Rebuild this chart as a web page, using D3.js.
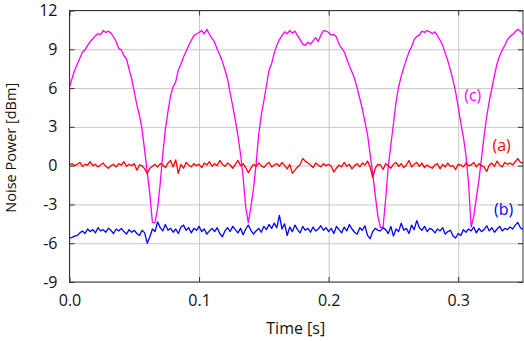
<!DOCTYPE html>
<head>
  <meta charset="utf-8">
  <script src="https://d3js.org/d3.v7.min.js"></script>
  <style>
    body { margin: 0; background: #fff; }
    text { font-family: "Open Sans", sans-serif; fill: #111; }
    .grid line { stroke: #c8c8c8; stroke-width: 1; }
    .grid path { display: none; }
    .axis path { display: none; }
    .axis line { stroke: #333; }
    .frame { fill: none; stroke: #333; stroke-width: 1; }
  </style>
</head>
<body>
<script>
  // sample spacing of the traces, in seconds
  var tStep = 0.002;

  var xTicks = [0, 0.1, 0.2, 0.3];
  var yTicks = [-9, -6, -3, 0, 3, 6, 9, 12];

  // (c) magenta
  var traceC = [
    6.10, 6.75, 7.40, 7.85, 8.30, 8.80, 8.95, 9.30, 9.60, 9.80,
    10.05, 10.20, 10.15, 10.45, 10.30, 10.40, 10.25, 9.95, 9.60, 9.05,
    8.95, 8.50, 8.25, 7.45, 6.70, 5.70, 4.70, 3.90, 2.80, 1.20,
    -0.50, -2.20, -4.40, -4.40, -3.30, -1.40, 0.90, 2.80, 4.20, 5.40,
    6.10, 6.50, 7.40, 7.85, 8.40, 8.85, 9.30, 9.70, 10.05, 10.20,
    10.30, 10.45, 10.20, 10.55, 10.15, 9.85, 9.55, 9.00, 8.55, 8.05,
    7.40, 6.70, 5.60, 4.60, 3.50, 2.30, 0.90, -0.90, -3.20, -4.40,
    -3.20, -1.80, 0.10, 2.40, 3.90, 5.00, 6.20, 7.40, 7.90, 8.70,
    9.30, 9.75, 10.05, 10.35, 10.20, 10.45, 10.25, 10.40, 10.05, 9.75,
    9.40, 9.30, 9.55, 9.40, 9.65, 9.90, 9.60, 10.10, 10.45, 10.40,
    10.30, 10.10, 10.15, 9.95, 9.40, 9.10, 8.80, 8.25, 7.70, 7.25,
    6.75, 6.00, 5.20, 4.40, 3.40, 2.40, 0.90, -0.60, -2.30, -3.90,
    -4.80, -4.75, -2.60, -0.10, 1.60, 3.20, 4.90, 6.10, 6.90, 7.60,
    8.20, 8.80, 9.20, 9.75, 10.00, 10.10, 10.40, 10.30, 10.45, 10.35,
    10.20, 10.35, 10.05, 9.70, 9.30, 8.70, 8.10, 7.40, 6.60, 5.70,
    4.50, 3.30, 2.20, 0.80, -1.40, -4.75, -3.90, -2.50, -1.10, 0.60,
    2.30, 3.80, 5.00, 6.00, 7.00, 7.90, 8.50, 8.95, 9.30, 9.75,
    10.00, 10.15, 10.35, 10.55, 10.40, 10.15
  ];

  // (a) red
  var traceA = [
    0.05, 0.15, 0.00, 0.10, 0.25, -0.05, 0.10, 0.05, 0.30, 0.00,
    0.10, -0.10, 0.05, 0.20, -0.05, -0.20, 0.00, 0.10, -0.10, 0.15,
    0.05, 0.30, -0.05, 0.10, 0.00, 0.15, -0.35, 0.05, 0.00, -0.25,
    -0.60, -0.20, -0.05, 0.10, -0.10, 0.15, 0.05, -0.15, 0.20, 0.40,
    -0.10, 0.45, -0.60, 0.10, -0.20, 0.25, 0.05, -0.10, 0.15, 0.00,
    0.10, -0.15, 0.20, 0.05, 0.30, -0.05, 0.15, 0.00, 0.40, 0.10,
    -0.05, 0.20, 0.05, -0.20, 0.10, 0.40, 0.00, 0.15, -0.15, -0.55,
    -0.20, 0.10, -0.05, 0.20, 0.00, -0.15, 0.10, 0.25, -0.10, 0.05,
    0.15, -0.05, 0.25, 0.00, -0.25, 0.10, -0.60, -0.35, -0.10, 0.10,
    0.55, 0.35, 0.20, 0.05, -0.15, 0.20, 0.05, -0.10, 0.15, 0.00,
    0.10, -0.05, -0.50, -0.20, 0.05, -0.10, 0.25, -0.05, 0.10, -0.25,
    0.00, 0.15, -0.10, 0.20, 0.05, 0.35, -0.10, -0.90, -0.20, 0.10,
    0.05, -0.30, 0.15, 0.00, -0.20, 0.10, 0.25, -0.05, 0.15, -0.15,
    0.05, 0.40, -0.10, 0.10, 0.25, -0.05, 0.20, -0.15, 0.05, -0.10,
    -0.20, 0.05, 0.15, -0.25, 0.10, -0.10, 0.20, -0.05, 0.00, -0.30,
    0.10, 0.05, -0.10, 0.20, 0.00, 0.05, 0.25, -0.10, 0.15, 0.00,
    -0.10, -0.45, 0.05, 0.20, -0.05, 0.35, 0.05, -0.10, 0.25, 0.10,
    0.20, 0.05, 0.30, 0.55, 0.25, 0.20
  ];

  // (b) blue
  var traceB = [
    -5.60, -5.55, -5.45, -5.40, -5.20, -5.05, -5.25, -4.90, -5.10, -4.95,
    -5.20, -4.80, -5.05, -4.95, -5.15, -4.85, -5.00, -5.25, -4.90, -5.05,
    -4.85, -5.10, -5.30, -4.95, -5.15, -5.00, -5.25, -5.40, -5.00, -5.20,
    -6.00, -5.50, -4.90, -5.10, -4.35, -4.80, -5.05, -4.55, -5.00, -4.85,
    -5.15, -4.90, -5.25, -4.75, -4.60, -5.00, -4.80, -5.20, -4.85, -5.00,
    -4.70, -5.10, -4.90, -5.30, -5.05, -4.85, -5.10, -4.80, -5.25, -5.50,
    -5.05, -4.80, -5.10, -4.70, -4.95, -5.20, -4.85, -5.35, -4.90, -4.60,
    -5.00, -5.30, -5.05, -4.85, -5.15, -4.70, -4.95, -4.55, -4.85, -4.45,
    -4.80, -3.85, -4.90, -4.50, -5.40, -4.75, -5.10, -4.60, -4.95, -5.20,
    -4.70, -5.00, -4.85, -5.15, -4.75, -5.05, -4.90, -4.65, -5.00, -4.80,
    -5.10, -4.85, -5.25, -4.70, -4.95, -5.20, -4.75, -5.05, -4.55, -4.90,
    -5.15, -5.30, -4.80, -5.00, -4.65, -5.40, -5.65, -5.10, -4.85, -5.00,
    -5.05, -4.80, -4.95, -5.25, -4.70, -5.45, -4.90, -5.10, -4.45, -5.00,
    -4.85, -5.25, -4.60, -4.95, -4.25, -4.80, -5.00, -4.70, -5.10, -4.85,
    -4.95, -5.20, -4.90, -5.05, -4.80, -5.30, -5.10, -5.00, -5.45, -5.60,
    -5.25, -5.40, -4.95, -5.15, -4.90, -5.05, -4.75, -5.20, -4.85, -5.10,
    -4.95, -4.65, -5.05, -4.80, -5.15, -4.90, -4.70, -5.05, -4.85, -4.95,
    -4.75, -4.90, -4.60, -4.40, -4.80, -4.95
  ];

  var margin = {top: 10.5, right: 1, bottom: 59, left: 69.5};
  var width = 524 - margin.left - margin.right;
  var height = 341 - margin.top - margin.bottom;

  var svg = d3.select("body").append("svg")
      .attr("width", 524)
      .attr("height", 341)
    .append("g")
      .attr("transform", "translate(" + margin.left + "," + margin.top + ")");

  var x = d3.scaleLinear().domain([0, 0.35]).range([0, width]);
  var y = d3.scaleLinear().domain([-9, 12]).range([height, 0]);

  // grid
  svg.append("g")
      .attr("class", "grid")
      .call(d3.axisBottom(x).tickValues(xTicks).tickSize(height).tickFormat(""));
  svg.append("g")
      .attr("class", "grid")
      .call(d3.axisLeft(y).tickValues(yTicks).tickSize(-width).tickFormat(""));

  // traces
  var line = d3.line()
      .x(function(d, i) { return x(i * tStep); })
      .y(function(d) { return y(d); });

  var series = [
    {values: traceC, color: "#ff00ff"},
    {values: traceA, color: "#ff0000"},
    {values: traceB, color: "#0000ff"}
  ];

  svg.selectAll(".trace")
      .data(series)
    .enter().append("path")
      .attr("class", "trace")
      .attr("fill", "none")
      .attr("stroke", function(d) { return d.color; })
      .attr("stroke-width", 1.3)
      .attr("stroke-linejoin", "round")
      .attr("d", function(d) { return line(d.values); });

  // frame + inward ticks on all sides
  svg.append("rect")
      .attr("class", "frame")
      .attr("width", width)
      .attr("height", height);

  var xb = svg.append("g")
      .attr("class", "axis")
      .attr("transform", "translate(0," + height + ")")
      .call(d3.axisBottom(x).tickValues(xTicks).tickSize(-5).tickPadding(13)
        .tickFormat(d3.format(".1f")));
  xb.selectAll("text").style("font-size", "16px");

  svg.append("g")
      .attr("class", "axis")
      .call(d3.axisTop(x).tickValues(xTicks).tickSize(-5).tickFormat(""));

  // plain hyphen for negatives, as in the original figure
  var yl = svg.append("g")
      .attr("class", "axis")
      .call(d3.axisLeft(y).tickValues(yTicks).tickSize(-5).tickPadding(12)
        .tickFormat(function(d) { return String(d); }));
  yl.selectAll("text").style("font-size", "16px");

  svg.append("g")
      .attr("class", "axis")
      .attr("transform", "translate(" + width + ",0)")
      .call(d3.axisRight(y).tickValues(yTicks).tickSize(-5).tickFormat(""));

  // axis titles
  svg.append("text")
      .attr("x", width / 2 - 0.5)
      .attr("y", height + 52)
      .attr("text-anchor", "middle")
      .style("font-size", "16px")
      .text("Time [s]");

  svg.append("text")
      .attr("transform", "translate(" + (-54) + "," + (height / 2 + 1.5) + ") rotate(-90)")
      .attr("text-anchor", "middle")
      .style("font-size", "14.5px")
      .text("Noise Power [dBm]");

  // trace labels
  var labels = [
    {t: "(c)", x: 0.3112, v: 5.0, color: "#ff00ff"},
    {t: "(a)", x: 0.3335, v: 1.1, color: "#ff0000"},
    {t: "(b)", x: 0.335, v: -3.85, color: "#0000ff"}
  ];
  svg.selectAll(".lbl")
      .data(labels)
    .enter().append("text")
      .attr("class", "lbl")
      .attr("x", function(d) { return x(d.x); })
      .attr("y", function(d) { return y(d.v); })
      .attr("text-anchor", "middle")
      .style("font-size", "16px")
      .style("fill", function(d) { return d.color; })
      .text(function(d) { return d.t; });
</script>
</body>
